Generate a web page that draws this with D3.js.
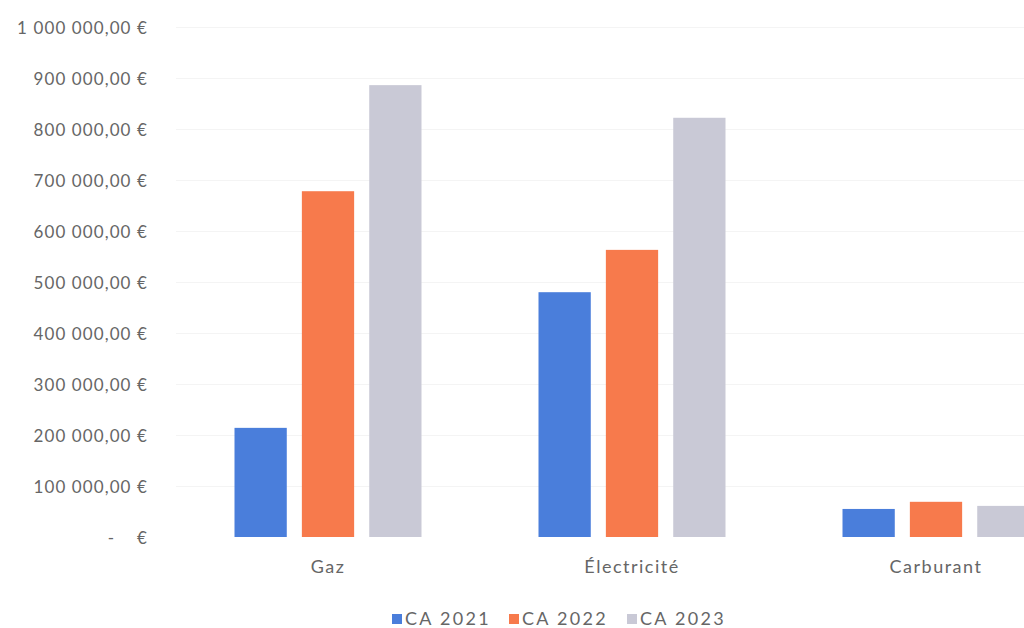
<!DOCTYPE html>
<html><head><meta charset="utf-8">
<script src="https://cdn.jsdelivr.net/npm/d3@7"></script>
<style>body{margin:0;background:#fff}svg{display:block}text{font-family:Lato,"Open Sans",sans-serif;white-space:pre}</style>
</head><body>
<svg id="c" width="1024" height="628"></svg>
<script>
const categories = ["Gaz", "Électricité", "Carburant"];
const series = ["CA 2021", "CA 2022", "CA 2023"];
const ca2021 = [214000, 480000, 55000];
const ca2022 = [678000, 563000, 69000];
const ca2023 = [886000, 822000, 61000];
const yTicks = [0, 100000, 200000, 300000, 400000, 500000, 600000, 700000, 800000, 900000, 1000000];
const colors = ["#4A7EDB", "#F77A4C", "#C9C9D6"];

const values = [ca2021, ca2022, ca2023];
const svg = d3.select("#c");
const y = d3.scaleLinear().domain([0, 1000000]).range([537, 27]);
const x0 = d3.scaleBand().domain(categories).range([176, 1088]).padding(0);
const x1 = d3.scaleBand().domain(series).range([58.5, 245.5]).paddingInner(0.224).paddingOuter(0);
const color = d3.scaleOrdinal().domain(series).range(colors);

const fmt = v => v === 0 ? "-    €" : d3.format(",.2f")(v).replace(/,/g, " ").replace(".", ",") + " €";

// gridlines
svg.append("g").selectAll("line").data(yTicks.slice(1)).join("line")
  .attr("x1", 176).attr("x2", 1024)
  .attr("y1", d => y(d) + 0.5).attr("y2", d => y(d) + 0.5)
  .attr("stroke", "#f4f4f4").attr("stroke-width", 1);

// y axis
const yAxis = d3.axisLeft(y).tickValues(yTicks).tickFormat(fmt).tickSize(0).tickPadding(0);
const ya = svg.append("g").attr("transform", "translate(148,1)").call(yAxis);
ya.select(".domain").remove();
ya.selectAll("text").attr("fill", "#666").style("font-size", "17px").style("letter-spacing", "1.1px")
  .style("font-family", "Lato, 'Open Sans', sans-serif");

// bars
const groups = svg.append("g").selectAll("g").data(categories).join("g")
  .attr("transform", d => `translate(${x0(d)},0)`);
groups.selectAll("rect").data((c, i) => series.map((s, j) => ({ s, v: values[j][i] }))).join("rect")
  .attr("x", d => x1(d.s)).attr("width", x1.bandwidth())
  .attr("y", d => y(d.v)).attr("height", d => y(0) - y(d.v))
  .attr("fill", d => color(d.s));

// x axis
const xAxis = d3.axisBottom(x0).tickSize(0).tickPadding(0);
const xa = svg.append("g").attr("transform", "translate(0,560)").call(xAxis);
xa.select(".domain").remove();
xa.selectAll("text").attr("fill", "#666").style("font-size", "18px").style("letter-spacing", "1.5px")
  .style("font-family", "Lato, 'Open Sans', sans-serif");

// legend
const legendX = [392, 509, 627];
const lg = svg.append("g").selectAll("g").data(series).join("g")
  .attr("transform", (d, i) => `translate(${legendX[i]},614)`);
lg.append("rect").attr("width", 10).attr("height", 10).attr("fill", d => color(d));
lg.append("text").attr("x", 13).attr("y", 10.5).text(d => d)
  .attr("fill", "#666").style("font-size", "18px").style("letter-spacing", "2.3px");
</script>
</body></html>
